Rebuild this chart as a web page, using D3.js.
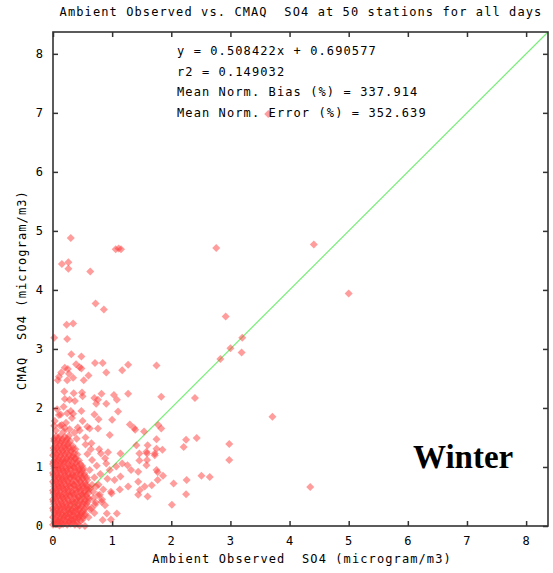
<!DOCTYPE html>
<html lang="en">
<head>
  <meta charset="UTF-8">
  <title>Ambient Observed vs. CMAQ SO4 - Winter</title>
  <script src="https://d3js.org/d3.v7.min.js"></script>
  <style>
    body {
      margin: 0;
      background-color: white;
    }

    svg {
      display: block;
    }

    .mono {
      font-family: "DejaVu Sans Mono", monospace;
      font-size: 12px;
      letter-spacing: 1.1px;
      white-space: pre;
      fill: black;
    }

    .season {
      font-family: "Liberation Serif", "Times New Roman", serif;
      font-weight: bold;
      font-size: 33px;
      fill: black;
    }
  </style>
</head>
<body>

<script>
  // axis ticks
  const tickValues = [0, 1, 2, 3, 4, 5, 6, 7, 8];
  const axisMax = 8.37;

  // regression summary
  const statLines = [
    "y = 0.508422x + 0.690577",
    "r2 = 0.149032",
    "Mean Norm. Bias (%) = 337.914",
    "Mean Norm. Error (%) = 352.639"
  ];

  // [observed, cmaq] pairs
  const denseCore = [
    [0.00,0.02],[0.05,0.03],[0.11,0.01],[0.17,0.03],[0.24,0.02],[0.30,0.04],[0.37,0.02],
    [0.02,0.08],[0.08,0.09],[0.14,0.07],[0.21,0.09],[0.27,0.08],[0.33,0.10],[0.40,0.08],[0.47,0.09],
    [0.00,0.15],[0.06,0.16],[0.12,0.14],[0.19,0.16],[0.25,0.15],[0.31,0.17],[0.38,0.14],[0.44,0.16],[0.50,0.15],
    [0.03,0.22],[0.09,0.23],[0.15,0.21],[0.22,0.23],[0.28,0.22],[0.35,0.24],[0.41,0.21],[0.48,0.23],
    [0.00,0.30],[0.06,0.31],[0.13,0.29],[0.19,0.31],[0.26,0.30],[0.32,0.28],[0.39,0.31],[0.45,0.30],[0.53,0.29],
    [0.02,0.37],[0.09,0.38],[0.16,0.36],[0.22,0.38],[0.29,0.37],[0.36,0.39],[0.43,0.36],[0.50,0.38],[0.57,0.37],
    [0.00,0.45],[0.05,0.46],[0.12,0.44],[0.18,0.46],[0.25,0.45],[0.33,0.43],[0.40,0.46],[0.47,0.45],[0.54,0.44],[0.61,0.46],
    [0.03,0.52],[0.09,0.53],[0.15,0.51],[0.22,0.53],[0.28,0.52],[0.35,0.54],[0.42,0.51],[0.49,0.53],[0.56,0.52],
    [0.00,0.60],[0.06,0.61],[0.12,0.59],[0.19,0.61],[0.26,0.60],[0.32,0.58],[0.39,0.61],[0.46,0.60],[0.53,0.59],[0.60,0.61],
    [0.02,0.67],[0.09,0.68],[0.15,0.66],[0.22,0.68],[0.29,0.67],[0.36,0.69],[0.43,0.66],[0.50,0.68],[0.58,0.67],
    [0.00,0.75],[0.05,0.76],[0.12,0.74],[0.18,0.76],[0.25,0.75],[0.32,0.73],[0.39,0.76],[0.46,0.75],[0.54,0.74],
    [0.03,0.82],[0.09,0.83],[0.16,0.81],[0.22,0.83],[0.29,0.82],[0.35,0.84],[0.42,0.81],[0.49,0.83],[0.57,0.82],
    [0.00,0.90],[0.06,0.91],[0.13,0.89],[0.19,0.91],[0.26,0.90],[0.33,0.88],[0.40,0.91],[0.47,0.90],[0.53,0.89],
    [0.02,0.97],[0.09,0.98],[0.15,0.96],[0.22,0.98],[0.29,0.97],[0.36,0.99],[0.44,0.96],[0.51,0.98],
    [0.00,1.05],[0.05,1.06],[0.12,1.04],[0.18,1.06],[0.25,1.05],[0.32,1.03],[0.39,1.06],[0.46,1.05],
    [0.03,1.12],[0.09,1.13],[0.16,1.11],[0.23,1.13],[0.30,1.12],[0.37,1.14],[0.44,1.11],
    [0.00,1.20],[0.06,1.21],[0.13,1.19],[0.20,1.21],[0.27,1.20],[0.34,1.18],[0.41,1.21],
    [0.02,1.28],[0.09,1.29],[0.16,1.27],[0.23,1.29],[0.30,1.28],[0.38,1.30],
    [0.04,1.36],[0.11,1.37],[0.18,1.35],[0.25,1.37],[0.33,1.36],
    [0.02,1.44],[0.08,1.45],[0.15,1.43],[0.22,1.45],[0.29,1.44],
    [0.05,1.52],[0.12,1.53],[0.20,1.51],[0.27,1.53]
  ];

  const denseFill = [
    [0.03,0.05],[0.08,0.06],[0.14,0.04],[0.20,0.05],[0.27,0.06],[0.34,0.05],[0.41,0.04],
    [0.04,0.12],[0.11,0.11],[0.17,0.12],[0.24,0.13],[0.30,0.11],[0.36,0.12],[0.43,0.13],[0.50,0.11],
    [0.03,0.19],[0.09,0.20],[0.16,0.18],[0.22,0.19],[0.29,0.20],[0.35,0.18],[0.42,0.19],[0.47,0.20],[0.54,0.18],
    [0.01,0.26],[0.07,0.27],[0.12,0.25],[0.19,0.26],[0.25,0.27],[0.32,0.25],[0.38,0.26],[0.44,0.27],[0.51,0.25],
    [0.04,0.33],[0.10,0.34],[0.16,0.32],[0.23,0.33],[0.29,0.34],[0.36,0.32],[0.42,0.33],[0.49,0.34],[0.56,0.32],
    [0.01,0.41],[0.07,0.42],[0.14,0.40],[0.20,0.41],[0.27,0.42],[0.33,0.40],[0.40,0.41],[0.46,0.42],[0.53,0.40],[0.59,0.41],
    [0.03,0.49],[0.09,0.50],[0.16,0.48],[0.22,0.49],[0.29,0.50],[0.36,0.48],[0.43,0.49],[0.51,0.50],[0.58,0.48],
    [0.01,0.56],[0.06,0.57],[0.12,0.55],[0.19,0.56],[0.25,0.57],[0.32,0.55],[0.39,0.56],[0.46,0.57],[0.52,0.55],[0.60,0.56],
    [0.04,0.64],[0.10,0.65],[0.17,0.63],[0.23,0.64],[0.30,0.65],[0.37,0.63],[0.44,0.64],[0.51,0.65],[0.57,0.63],[0.63,0.64],
    [0.02,0.71],[0.08,0.72],[0.14,0.70],[0.21,0.71],[0.28,0.72],[0.35,0.70],[0.42,0.71],[0.49,0.72],[0.56,0.70],
    [0.03,0.79],[0.09,0.80],[0.15,0.78],[0.22,0.79],[0.28,0.80],[0.35,0.78],[0.43,0.79],[0.50,0.80],[0.58,0.78],
    [0.01,0.86],[0.07,0.87],[0.13,0.85],[0.20,0.86],[0.26,0.87],[0.33,0.85],[0.39,0.86],[0.46,0.87],[0.53,0.85],
    [0.04,0.94],[0.10,0.95],[0.17,0.93],[0.23,0.94],[0.30,0.95],[0.37,0.93],[0.44,0.94],[0.50,0.95],
    [0.02,1.01],[0.08,1.02],[0.14,1.00],[0.21,1.01],[0.28,1.02],[0.35,1.00],[0.42,1.01],[0.49,1.02],
    [0.01,1.09],[0.07,1.10],[0.13,1.08],[0.19,1.09],[0.26,1.10],[0.33,1.08],[0.40,1.09],
    [0.04,1.16],[0.10,1.17],[0.17,1.15],[0.24,1.16],[0.31,1.17],[0.38,1.15],
    [0.03,1.24],[0.09,1.25],[0.16,1.23],[0.23,1.24],[0.30,1.25],[0.36,1.23],
    [0.01,1.32],[0.07,1.33],[0.14,1.31],[0.20,1.32],[0.27,1.33],[0.34,1.31],
    [0.05,1.40],[0.12,1.41],[0.19,1.39],[0.26,1.40],
    [0.02,1.48],[0.09,1.49],[0.16,1.47],[0.24,1.48]
  ];

  const nearCore = [
    [0.62,0.95],[0.66,1.12],[0.70,0.82],[0.68,0.58],[0.74,1.02],[0.77,0.70],[0.80,0.88],[0.72,0.40],
    [0.85,0.62],[0.88,1.15],[0.63,0.28],[0.92,0.80],[0.96,0.95],[0.64,1.30],[0.58,1.22],[0.60,0.15],
    [0.78,1.30],[0.83,0.45],[0.70,0.22],[0.98,0.58],[0.55,1.38],[0.66,0.70],[0.88,0.35],[0.76,0.52],
    [0.05,1.62],[0.12,1.70],[0.03,1.78],[0.18,1.60],[0.28,1.64],[0.22,1.75],[0.36,1.58],[0.45,1.62],
    [0.10,1.88],[0.30,1.95],[0.50,1.78],[0.55,1.50],[0.07,1.98],[0.40,1.48],[0.18,2.02],[0.48,1.95],
    [0.58,1.68],[0.02,1.70]
  ];

  const spread = [
    [0.30,4.88],[1.06,4.69],[1.11,4.70],[1.15,4.69],[2.76,4.71],[4.41,4.77],[5.00,3.94],[0.15,4.44],
    [0.26,4.47],[0.26,4.36],[0.63,4.31],[0.72,3.77],[0.86,3.67],[2.92,3.55],[0.23,3.41],[0.34,3.43],
    [0.02,3.19],[0.24,3.17],[0.31,2.91],[0.48,2.87],[3.00,3.01],[3.20,3.19],[2.83,2.83],[3.19,2.94],
    [3.64,6.98],
    [0.20,2.68],[0.25,2.66],[0.39,2.74],[0.45,2.69],[0.48,2.67],[0.71,2.76],[0.84,2.76],[1.27,2.73],
    [1.75,2.72],[1.17,2.64],[0.90,2.60],[0.14,2.60],[0.10,2.53],[0.27,2.58],[0.34,2.51],[0.24,2.47],
    [0.08,2.47],[0.52,2.47],[0.60,2.55],
    [0.19,2.28],[0.20,2.15],[0.35,2.25],[0.28,2.14],[0.37,2.12],[0.50,2.20],[0.49,2.26],[0.70,2.17],
    [0.82,2.24],[0.76,2.14],[0.73,2.07],[0.90,2.07],[1.03,2.22],[1.08,2.14],[1.27,2.24],[1.83,2.19],
    [2.40,2.17],[1.10,1.94],[1.00,1.80],[0.70,1.89],[0.77,1.81],[0.13,1.89],[0.24,1.91],[0.32,1.83],
    [0.34,1.90],[0.15,1.71],[0.20,1.66],[0.42,1.67],[0.62,1.65],[0.76,1.65],[1.30,1.72],[1.37,1.66],
    [1.83,1.65],[3.71,1.85],
    [0.96,1.54],[0.65,1.40],[1.41,1.37],[1.60,1.37],[0.81,1.23],[0.93,1.25],[1.14,1.23],[1.46,1.23],
    [1.59,1.23],[1.72,1.23],[1.75,1.31],[0.90,1.06],[1.07,1.01],[1.17,1.06],[1.26,1.03],[1.32,0.95],
    [1.44,0.92],[1.58,1.03],[1.77,0.91],[1.86,0.85],[1.77,0.78],[2.04,0.72],[1.04,0.78],[1.14,0.84],
    [1.27,0.67],[1.13,0.62],[1.55,0.67],[1.44,0.53],[2.01,0.36],[1.60,0.50],[0.84,0.10],[0.98,0.11],
    [0.54,0.00],[0.45,0.01],[0.73,0.67],[0.79,0.53],[0.65,0.30],[0.54,0.21],[0.68,0.47],
    [1.39,1.63],[1.54,1.60],[1.78,1.71],[2.25,1.46],[2.43,1.49],[2.21,1.34],[2.98,1.39],[2.98,1.12],
    [1.75,1.47],[1.85,1.29],[1.72,1.20],[1.59,1.12],[1.58,1.26],[1.46,1.11],[1.75,0.95],[2.26,0.78],
    [2.51,0.85],[2.65,0.83],[2.25,0.54],[1.67,0.69],[1.44,0.75],[1.47,0.61],[0.99,0.55],[1.08,0.21],
    [0.91,0.21],[0.82,0.41],[0.71,0.36],[4.35,0.66]
  ];

  const width = 553;
  const height = 573;
  const margin = { top: 32, right: 5, bottom: 47, left: 53 };

  const svg = d3.select("body").append("svg")
    .attr("width", width)
    .attr("height", height);

  const x = d3.scaleLinear().domain([0, axisMax]).range([margin.left, width - margin.right]);
  const y = d3.scaleLinear().domain([0, axisMax]).range([height - margin.bottom, margin.top]);

  // title
  svg.append("text")
    .attr("class", "mono")
    .attr("x", 301)
    .attr("y", 16)
    .attr("text-anchor", "middle")
    .text("Ambient Observed vs. CMAQ  SO4 at 50 stations for all days");

  // axes, ticks point inward on all four sides
  const fmt = d3.format("d");
  const bottomAxis = svg.append("g")
    .attr("transform", `translate(0,${y(0)})`)
    .call(d3.axisBottom(x).tickValues(tickValues).tickSizeInner(-5).tickSizeOuter(0).tickPadding(10).tickFormat(fmt));
  const leftAxis = svg.append("g")
    .attr("transform", `translate(${x(0)},0)`)
    .call(d3.axisLeft(y).tickValues(tickValues).tickSizeInner(-5).tickSizeOuter(0).tickPadding(9).tickFormat(fmt));
  const topAxis = svg.append("g")
    .attr("transform", `translate(0,${y(axisMax)})`)
    .call(d3.axisTop(x).tickValues(tickValues).tickSizeInner(-5).tickSizeOuter(0).tickFormat(""));
  const rightAxis = svg.append("g")
    .attr("transform", `translate(${x(axisMax)},0)`)
    .call(d3.axisRight(y).tickValues(tickValues).tickSizeInner(-5).tickSizeOuter(0).tickFormat(""));

  [bottomAxis, leftAxis, topAxis, rightAxis].forEach(g => {
    g.select(".domain").remove();
    g.selectAll(".tick line").attr("stroke", "#333").attr("stroke-width", 1.5);
    g.selectAll(".tick text")
      .attr("class", "mono")
      .style("font-family", "'DejaVu Sans Mono', monospace")
      .style("font-size", "12px");
  });

  // 1:1 line
  svg.append("line")
    .attr("x1", x(0)).attr("y1", y(0))
    .attr("x2", x(axisMax)).attr("y2", y(axisMax))
    .attr("stroke", "#7aee7a")
    .attr("stroke-width", 1.2);

  // points
  const r = 4;
  const diamond = `M0,${-r}L${r},0L0,${r}L${-r},0Z`;
  const allPoints = denseCore.concat(denseFill, nearCore, spread);

  svg.append("g")
    .selectAll("path")
    .data(allPoints)
    .enter().append("path")
    .attr("d", diamond)
    .attr("transform", d => `translate(${x(d[0])},${y(d[1])})`)
    .attr("fill", "#ff3b3b")
    .attr("fill-opacity", 0.5);

  // frame
  svg.append("rect")
    .attr("x", x(0))
    .attr("y", y(axisMax))
    .attr("width", x(axisMax) - x(0))
    .attr("height", y(0) - y(axisMax))
    .attr("fill", "none")
    .attr("stroke", "#333")
    .attr("stroke-width", 1.6);

  // stats block
  svg.append("g")
    .selectAll("text")
    .data(statLines)
    .enter().append("text")
    .attr("class", "mono")
    .attr("x", 177)
    .attr("y", (d, i) => 55 + i * 20.5)
    .text(d => d);

  // axis titles
  svg.append("text")
    .attr("class", "mono")
    .attr("x", 302)
    .attr("y", 563)
    .attr("text-anchor", "middle")
    .text("Ambient Observed  SO4 (microgram/m3)");

  svg.append("text")
    .attr("class", "mono")
    .attr("transform", "translate(26,290) rotate(-90)")
    .attr("text-anchor", "middle")
    .text("CMAQ  SO4 (microgram/m3)");

  // season label
  svg.append("text")
    .attr("class", "season")
    .attr("x", 413)
    .attr("y", 468)
    .text("Winter");
</script>

</body>
</html>
